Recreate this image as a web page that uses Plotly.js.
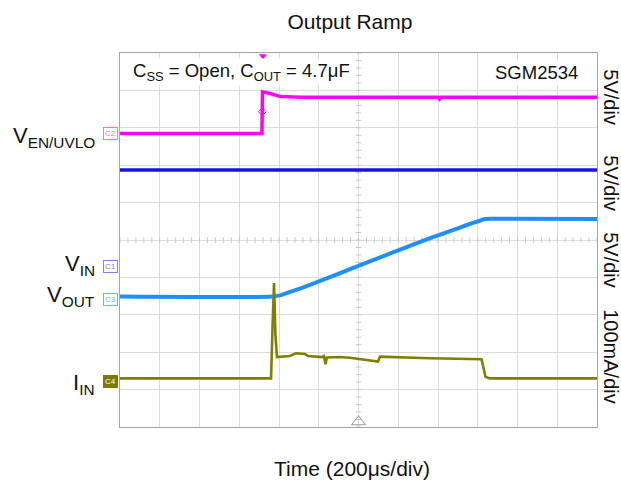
<!DOCTYPE html>
<html>
<head>
<meta charset="utf-8">
<script src="https://cdn.plot.ly/plotly-3.0.1.min.js"></script>
<style>html,body{margin:0;padding:0;background:#fff;}#chart{width:621px;height:481px;}</style>
</head>
<body>
<div id="chart"></div>
<script>
// Time axis in microseconds (200 us/div, 12 divisions); vertical axis in scope divisions (10 div)
const enTime   = [0, 714, 717, 745, 805, 906, 1600, 1608, 1616, 2400];
const enValue  = [7.85, 7.85, 8.96, 8.93, 8.84, 8.82, 8.82, 8.77, 8.82, 8.82];

const vinTime  = [0, 2400];
const vinValue = [6.87, 6.87];

const voutTime  = [0, 745, 805, 855, 906, 1082, 1157, 1560, 1836, 1861, 2400];
const voutValue = [3.49, 3.48, 3.52, 3.61, 3.70, 4.06, 4.22, 5.05, 5.56, 5.57, 5.56];

const iinTime  = [0, 760, 767, 775, 782, 790, 855, 885, 931, 946, 1016, 1026, 1034, 1041, 1107, 1157, 1298, 1308, 1560, 1819, 1839, 1861, 2400];
const iinValue = [1.30, 1.30, 2.59, 3.85, 2.46, 1.87, 1.90, 1.97, 1.95, 1.90, 1.87, 1.90, 1.68, 1.86, 1.87, 1.85, 1.75, 1.88, 1.84, 1.81, 1.34, 1.30, 1.30];

const channelLabels = ["V<sub>EN/UVLO</sub>", "V<sub>IN</sub>", "V<sub>OUT</sub>", "I<sub>IN</sub>"];
const labelLevels   = [7.76, 4.34, 3.49, 1.16];
const scaleLabels   = ["5V/div", "5V/div", "5V/div", "100mA/div"];
const scaleLevels   = [0.882, 0.652, 0.4465, 0.187];
const tagNames  = ["C2", "C1", "C3", "C4"];
const tagLevels = [7.85, 4.3, 3.4, 1.23];
const tagColors = ["#ff66ff", "#8080ff", "#66b3ff", "#7a7a00"];

const FONT = "Liberation Sans, Arial, sans-serif";
const colEN = "#ff00ff", colVIN = "#1414e6", colVOUT = "#1e8fff", colIIN = "#7f7f00";

// Minor tick decoration along the scope centre lines
const hTickX = [], hTickY = [], vTickX = [], vTickY = [];
for (let t = 0; t <= 2400; t += 40) { hTickX.push(t); hTickY.push(5); }
for (let v = 0; v <= 10; v += 0.2) { vTickX.push(1200); vTickY.push(v); }

const traces = [
  {x: hTickX, y: hTickY, mode: "markers", marker: {symbol: "line-ns", size: 4, line: {width: 1, color: "#c8c8c8"}}, hoverinfo: "skip"},
  {x: vTickX, y: vTickY, mode: "markers", marker: {symbol: "line-ew", size: 4, line: {width: 1, color: "#c8c8c8"}}, hoverinfo: "skip"},
  {x: vinTime, y: vinValue, mode: "lines", line: {color: colVIN, width: 3.5}},
  {x: enTime, y: enValue, mode: "lines", line: {color: colEN, width: 3.5}},
  {x: voutTime, y: voutValue, mode: "lines", line: {color: colVOUT, width: 4, shape: "spline", smoothing: 0.4}},
  {x: iinTime, y: iinValue, mode: "lines", line: {color: colIIN, width: 2.6}},
  {x: [716], y: [8.43], mode: "markers", marker: {symbol: "diamond-open", size: 6, color: colEN, line: {width: 1}}},
  {x: [719], y: [9.92], mode: "markers", marker: {symbol: "triangle-down", size: 7, color: colEN}, cliponaxis: false},
  {x: [1200], y: [0.14], mode: "markers", marker: {symbol: "triangle-up-open", size: 12, color: "#999999", line: {width: 1}}, cliponaxis: false}
];

const annotations = [
  {xref: "paper", yref: "paper", x: 0.023, y: 0.949, xanchor: "left", yanchor: "middle", showarrow: false,
   text: "C<sub>SS</sub> = Open, C<sub>OUT</sub> = 4.7μF", font: {family: FONT, size: 18.5, color: "#111"}, bgcolor: "#ffffff"},
  {xref: "paper", yref: "paper", x: 0.965, y: 0.949, xanchor: "right", yanchor: "middle", showarrow: false,
   text: "SGM2534", font: {family: FONT, size: 18.5, color: "#111"}, bgcolor: "#ffffff"},
  {xref: "paper", yref: "paper", x: 0.486, y: -0.11, xanchor: "center", yanchor: "middle", showarrow: false,
   text: "Time (200μs/div)", font: {family: FONT, size: 21, color: "#111"}}
];
channelLabels.forEach((t, i) => annotations.push({
  xref: "paper", yref: "y", x: -0.048, y: labelLevels[i], xanchor: "right", yanchor: "middle", showarrow: false,
  text: t, font: {family: FONT, size: 22, color: "#111"}
}));
scaleLabels.forEach((t, i) => annotations.push({
  xref: "paper", yref: "paper", x: 1.029, y: scaleLevels[i], xanchor: "center", yanchor: "middle", showarrow: false,
  text: t, textangle: 90, font: {family: FONT, size: 20, color: "#111"}
}));
tagNames.forEach((n, i) => {
  const filled = (i === 3);
  annotations.push({xref: "paper", yref: "y", x: -0.004, y: tagLevels[i], xanchor: "right", yanchor: "middle", showarrow: false,
    text: n, font: {family: FONT, size: 8, color: filled ? "#ffffff" : tagColors[i]},
    bordercolor: tagColors[i], borderwidth: 1, borderpad: 1, bgcolor: filled ? tagColors[i] : "#ffffff"});
});

const layout = {
  width: 621, height: 481,
  margin: {l: 120, r: 24, t: 53, b: 54},
  paper_bgcolor: "#ffffff", plot_bgcolor: "#ffffff",
  showlegend: false,
  title: {text: "Output Ramp", x: 0.5636, xref: "container", xanchor: "center", y: 0.954, yref: "container", yanchor: "middle",
          font: {family: FONT, size: 21, color: "#111"}},
  xaxis: {range: [0, 2400], dtick: 200, tick0: 0, showgrid: true, gridcolor: "#dcdcdc", gridwidth: 1,
          showticklabels: false, ticks: "", zeroline: false, showline: true, mirror: true, linecolor: "#a6a6a6", linewidth: 1.3, fixedrange: true},
  yaxis: {range: [0, 10], dtick: 1, tick0: 0, showgrid: true, gridcolor: "#dcdcdc", gridwidth: 1,
          showticklabels: false, ticks: "", zeroline: false, showline: true, mirror: true, linecolor: "#a6a6a6", linewidth: 1.3, fixedrange: true},
  annotations: annotations
};

Plotly.newPlot("chart", traces, layout, {displayModeBar: false, staticPlot: true});
</script>
</body>
</html>
